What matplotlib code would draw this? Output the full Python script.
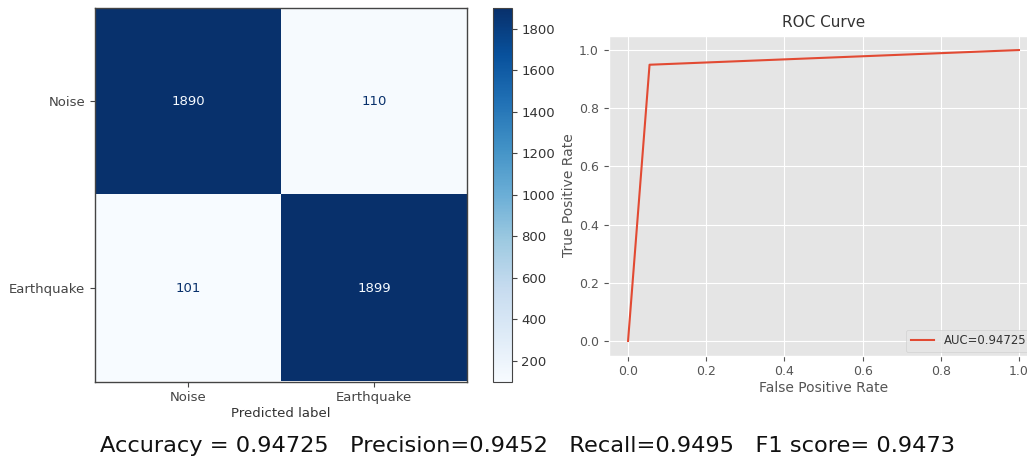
import numpy as np
import matplotlib
matplotlib.use("Agg")
import matplotlib.pyplot as plt

# Confusion matrix counts (rows: true label, cols: predicted label)
class_names = ["Noise", "Earthquake"]
cm_counts = [[1890, 110],
             [101, 1899]]

# ROC curve points
roc_fpr = [0.0, 0.055, 1.0]
roc_tpr = [0.0, 0.9495, 1.0]
auc_value = 0.94725

# Summary metrics
accuracy = 0.94725
precision = 0.9452
recall = 0.9495
f1_score = 0.9473

W, H = 1027, 461
fig = plt.figure(figsize=(W / 100, H / 100), dpi=100)
fig.patch.set_facecolor("white")


def frac(x0, y0, x1, y1):
    return [x0 / W, 1 - y1 / H, (x1 - x0) / W, (y1 - y0) / H]


# --- Confusion matrix -------------------------------------------------
cm = np.array(cm_counts)
cmap = plt.get_cmap("Blues")
ax_cm = fig.add_axes(frac(95, 8, 467, 381.5))
im = ax_cm.imshow(cm, cmap=cmap, interpolation="nearest", aspect="auto",
                  vmin=cm.min(), vmax=cm.max())
thresh = (cm.max() + cm.min()) / 2.0
for i in range(cm.shape[0]):
    for j in range(cm.shape[1]):
        color = cmap(0.0) if cm[i, j] > thresh else cmap(1.0)
        ax_cm.text(j, i, f"{cm[i, j]}", ha="center", va="center",
                   color=color, fontsize=9.5)
ax_cm.set_xticks(range(len(class_names)))
ax_cm.set_xticklabels(class_names, fontsize=9.5, color="#333333")
ax_cm.set_yticks(range(len(class_names)))
ax_cm.set_yticklabels(class_names, fontsize=9.5, color="#333333")
ax_cm.set_xlabel("Predicted label", fontsize=9.5, color="#333333", labelpad=2)
for s in ax_cm.spines.values():
    s.set_color("#444444")
    s.set_linewidth(1.0)
ax_cm.tick_params(colors="#444444", length=3.5)

ax_cb = fig.add_axes(frac(493, 8, 511.5, 381.5))
cb = fig.colorbar(im, cax=ax_cb)
cb.set_ticks([200, 400, 600, 800, 1000, 1200, 1400, 1600, 1800])
cb.ax.tick_params(labelsize=9.5, colors="#444444", length=3.5)
for lbl in cb.ax.get_yticklabels():
    lbl.set_color("#333333")
cb.outline.set_edgecolor("#444444")

# --- ROC curve ----------------------------------------------------------
with plt.style.context("ggplot"):
    ax_roc = fig.add_axes(frac(608.5, 35.5, 1038.5, 355.5))
    ax_roc.plot(roc_fpr, roc_tpr, color="#E24A33", linewidth=1.5,
                label=f"AUC={auc_value}")
    ax_roc.set_xlim(-0.05, 1.05)
    ax_roc.set_ylim(-0.05, 1.05)
    ax_roc.set_xticks([0.0, 0.2, 0.4, 0.6, 0.8, 1.0])
    ax_roc.set_yticks([0.0, 0.2, 0.4, 0.6, 0.8, 1.0])
    ax_roc.tick_params(labelsize=9, colors="#555555")
    ax_roc.set_title("ROC Curve", fontsize=11, color="#333333", pad=6)
    ax_roc.set_xlabel("False Positive Rate", fontsize=10, color="#555555",
                      labelpad=2)
    ax_roc.set_ylabel("True Positive Rate", fontsize=10, color="#555555",
                      labelpad=2)
    leg = ax_roc.legend(loc="lower right", fontsize=8.4, frameon=True,
                        handlelength=2.0, borderaxespad=0.3,
                        bbox_to_anchor=(0.99, 0.0))
    for t in leg.get_texts():
        t.set_color("#333333")

# --- Metrics summary ------------------------------------------------------
fig.text(528 / W, 1 - 446 / H,
         f"Accuracy = {accuracy}   Precision={precision}   "
         f"Recall={recall}   F1 score= {f1_score}",
         ha="center", va="center", fontsize=16.2, color="#111111")

fig.savefig("out.png", dpi=100, facecolor="white")
